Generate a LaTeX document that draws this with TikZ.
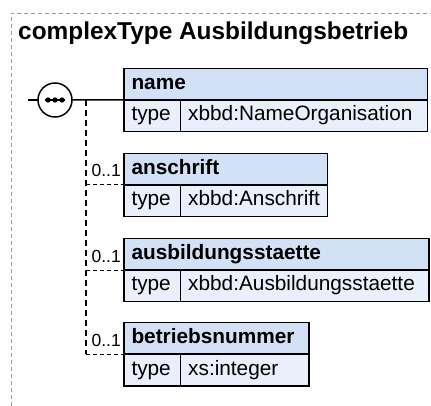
\documentclass[tikz,border=0pt]{standalone}
\usepackage{fontspec}
\setmainfont{Liberation Sans}
\definecolor{hdr}{HTML}{D3E1F6}
\definecolor{rowc}{HTML}{E9F0FB}
\definecolor{frame}{HTML}{9A9A9A}
\tikzset{
  hdrbox/.style={draw=black, line width=1.5pt, fill=hdr, anchor=north west, outer sep=0pt,
    minimum height=31.7pt, inner xsep=7.5pt, inner ysep=0pt, text height=14pt, text depth=4pt,
    font=\fontsize{20.8}{24}\selectfont\bfseries, align=left, text width=#1},
  cellbox/.style={draw=black, line width=1.5pt, fill=rowc, anchor=north west, outer sep=0pt,
    minimum height=31.7pt, inner xsep=7.5pt, inner ysep=0pt, text height=14pt, text depth=4pt,
    font=\fontsize{20.8}{24}\selectfont, align=left, text width=#1},
  card/.style={anchor=base east, inner sep=0pt, font=\fontsize{17.5}{20}\selectfont},
  conn/.style={line width=1.5pt, dash pattern=on 6pt off 4pt},
  branch/.style={line width=1pt, dash pattern=on 4pt off 3pt},
  outerframe/.style={draw=frame, line width=0.9pt, dash pattern=on 4pt off 3pt},
}
\begin{document}
\begin{tikzpicture}[x=1pt,y=-1pt]
\useasboundingbox (0,0) rectangle (431,406);
% outer dashed frame
\draw[outerframe] (11,406) -- (11,13.3) -- (431,13.3);
\node[anchor=base west, inner sep=0pt, font=\fontsize{24.4}{28}\selectfont\bfseries] (title) at (18,40) {complexType Ausbildungsbetrieb};
% elements
\node[hdrbox=288.5pt] (hname) at (124,68.3) {name};
\node[cellbox=41.7pt] (tname) at (hname.south west) {type};
\node[cellbox=231.8pt] (vname) at (tname.north east) {xbbd:NameOrganisation};

\node[hdrbox=188.5pt] (hans) at (124,153.3) {anschrift};
\node[cellbox=41.7pt] (tans) at (hans.south west) {type};
\node[cellbox=131.8pt] (vans) at (tans.north east) {xbbd:Anschrift};

\node[hdrbox=290pt] (hausb) at (124,238.3) {ausbildungsstaette};
\node[cellbox=41.7pt] (tausb) at (hausb.south west) {type};
\node[cellbox=233.3pt] (vausb) at (tausb.north east) {xbbd:Ausbildungsstaette};

\node[hdrbox=170pt] (hbet) at (124,322.5) {betriebsnummer};
\node[cellbox=41.7pt] (tbet) at (hbet.south west) {type};
\node[cellbox=113.3pt] (vbet) at (tbet.north east) {xs:integer};
% sequence compositor
\node[draw=black, line width=1.5pt, fill=white, circle, outer sep=0pt, minimum size=34pt, inner sep=0pt] (seq) at (55,100) {};
\draw[line width=1.3pt] ([xshift=-10pt]seq.center) -- ([xshift=10pt]seq.center);
\fill ([xshift=-7pt]seq.center) circle (2.7pt);
\fill (seq.center) circle (2.7pt);
\fill ([xshift=7pt]seq.center) circle (2.7pt);
\coordinate (in) at (28,100);
\coordinate (j) at (86,100);
\draw[line width=1.5pt] (in) -- (seq.west);
\draw[line width=1.5pt] (seq.east) -- (hname.south west);
\draw[conn] (j) -- (j |- hbet.south west);
\draw[branch] (j |- hans.south west) -- (hans.south west);
\draw[branch] (j |- hausb.south west) -- (hausb.south west);
\draw[branch] (j |- hbet.south west) -- (hbet.south west);
\node[card] (c1) at ([xshift=-3pt,yshift=8pt]hans.south west) {0..1};
\node[card] (c2) at ([xshift=-3pt,yshift=8pt]hausb.south west) {0..1};
\node[card] (c3) at ([xshift=-3pt,yshift=8pt]hbet.south west) {0..1};
\end{tikzpicture}
\end{document}
